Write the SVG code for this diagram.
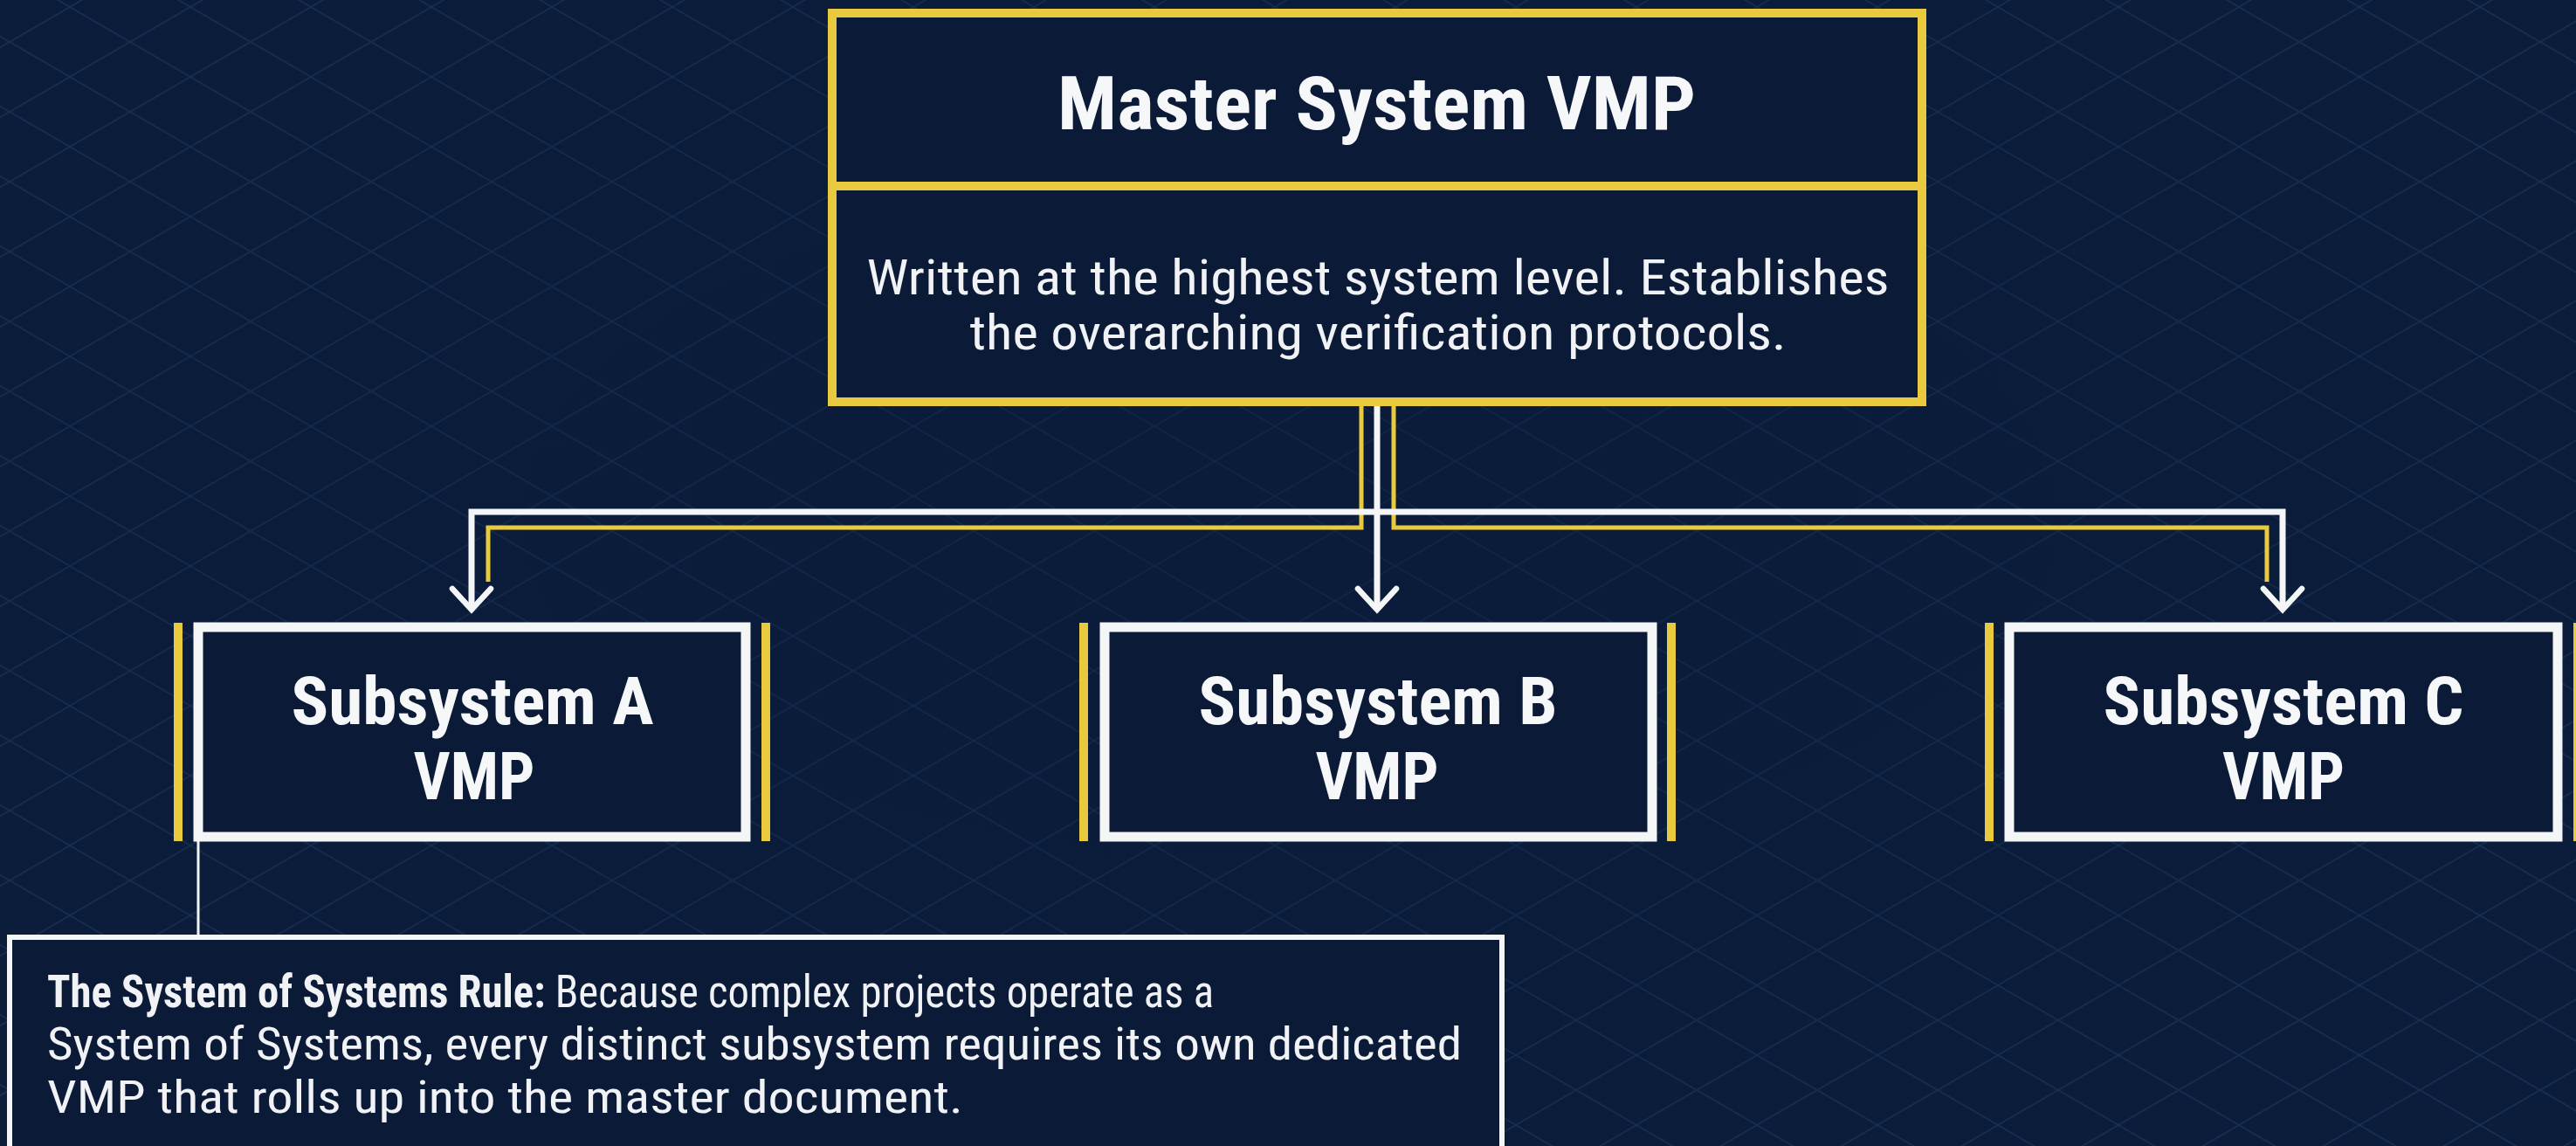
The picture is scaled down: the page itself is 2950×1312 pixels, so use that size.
<svg xmlns="http://www.w3.org/2000/svg" width="2950" height="1312" viewBox="0 0 2950 1312">
  <defs>
    <pattern id="lattice" x="11" y="48" width="138" height="80" patternUnits="userSpaceOnUse">
      <path d="M0,0 L138,80 M0,80 L138,0" stroke="#183157" stroke-width="1.8" fill="none"/>
    </pattern>
    <radialGradient id="vign" cx="50%" cy="45%" r="70%">
      <stop offset="0" stop-color="#0A1B38" stop-opacity="0.6"/>
      <stop offset="1" stop-color="#0A1B38" stop-opacity="0.1"/>
    </radialGradient>
    <marker id="chev" markerUnits="userSpaceOnUse" markerWidth="60" markerHeight="60" viewBox="-40 -30 50 60" refX="0" refY="0" orient="auto">
      <path d="M-24,-22 L0,0 L-24,22" fill="none" stroke="#F3F5F7" stroke-width="6.5" stroke-linecap="round" stroke-linejoin="miter"/>
    </marker>
    <style>
      .ybox { fill: #0B1A36; stroke: #E9CA3E; stroke-width: 10; }
      .wbox { fill: #0B1A36; stroke: #F3F5F7; stroke-width: 11; }
      .ybar { fill: #E9CA3E; }
      .title { font-family: "Roboto Condensed", Roboto, "Liberation Sans", sans-serif; font-weight: 700; fill: #F6F7F9; }
      .body { font-family: "Roboto Condensed", Roboto, "Liberation Sans", sans-serif; font-weight: 400; fill: #F0F2F5; }
      .ylink { fill: none; stroke: #E9CA3E; stroke-width: 5; stroke-linejoin: miter; }
      .wlink { fill: none; stroke: #F3F5F7; stroke-width: 7; stroke-linejoin: miter; }
    </style>
  </defs>

  <rect width="2950" height="1312" fill="#0A1D3B"/>
  <rect width="2950" height="1312" fill="url(#lattice)"/>
  <rect width="2950" height="1312" fill="url(#vign)"/>

  <g id="connectors">
    <path class="ylink" d="M1559,465 V604 H559 V666"/>
    <path class="ylink" d="M1596,465 V604 H2596 V666"/>
    <path class="wlink" d="M1577,586 H540 V698" marker-end="url(#chev)"/>
    <path class="wlink" d="M1577,586 H2614 V698" marker-end="url(#chev)"/>
    <path class="wlink" d="M1577,465 V698" marker-end="url(#chev)"/>
    <path d="M227,963 V1073" stroke="#F3F5F7" stroke-width="3" fill="none"/>
  </g>

  <g id="master">
    <rect class="ybox" x="953" y="15" width="1248" height="445"/>
    <line x1="953" y1="213" x2="2201" y2="213" stroke="#E9CA3E" stroke-width="10"/>
    <text class="title" x="1576.5" y="148" font-size="86" text-anchor="middle" textLength="731" lengthAdjust="spacingAndGlyphs">Master System VMP</text>
    <text class="body" x="1578" y="337" font-size="56" text-anchor="middle" textLength="1171" lengthAdjust="spacingAndGlyphs">Written at the highest system level. Establishes</text>
    <text class="body" x="1578" y="400" font-size="56" text-anchor="middle" textLength="935" lengthAdjust="spacingAndGlyphs">the overarching verification protocols.</text>
  </g>

  <g id="subsystem-a">
    <rect class="ybar" x="199" y="713" width="10" height="250"/>
    <rect class="ybar" x="872" y="713" width="10" height="250"/>
    <rect class="wbox" x="227" y="718" width="627" height="240"/>
    <text class="title" x="541" y="829" font-size="76" text-anchor="middle" textLength="415" lengthAdjust="spacingAndGlyphs">Subsystem A</text>
    <text class="title" x="543" y="915" font-size="76" text-anchor="middle" textLength="139" lengthAdjust="spacingAndGlyphs">VMP</text>
  </g>

  <g id="subsystem-b">
    <rect class="ybar" x="1236" y="713" width="10" height="250"/>
    <rect class="ybar" x="1909" y="713" width="10" height="250"/>
    <rect class="wbox" x="1265" y="718" width="627" height="240"/>
    <text class="title" x="1578" y="829" font-size="76" text-anchor="middle" textLength="411" lengthAdjust="spacingAndGlyphs">Subsystem B</text>
    <text class="title" x="1577" y="915" font-size="76" text-anchor="middle" textLength="141" lengthAdjust="spacingAndGlyphs">VMP</text>
  </g>

  <g id="subsystem-c">
    <rect class="ybar" x="2273" y="713" width="10" height="250"/>
    <rect class="ybar" x="2947" y="713" width="10" height="250"/>
    <rect class="wbox" x="2301" y="718" width="628" height="240"/>
    <text class="title" x="2615" y="829" font-size="76" text-anchor="middle" textLength="413" lengthAdjust="spacingAndGlyphs">Subsystem C</text>
    <text class="title" x="2615" y="915" font-size="76" text-anchor="middle" textLength="140" lengthAdjust="spacingAndGlyphs">VMP</text>
  </g>

  <g id="rule-note">
    <rect x="11" y="1073" width="1709" height="260" fill="#0B1A36" stroke="#F3F5F7" stroke-width="6"/>
    <text class="body" x="54" y="1153" font-size="52" textLength="1336" lengthAdjust="spacingAndGlyphs"><tspan font-weight="700">The System of Systems Rule:</tspan> Because complex projects operate as a</text>
    <text class="body" x="54" y="1213" font-size="52" textLength="1620" lengthAdjust="spacingAndGlyphs">System of Systems, every distinct subsystem requires its own dedicated</text>
    <text class="body" x="54" y="1274" font-size="52" textLength="1049" lengthAdjust="spacingAndGlyphs">VMP that rolls up into the master document.</text>
  </g>
</svg>
